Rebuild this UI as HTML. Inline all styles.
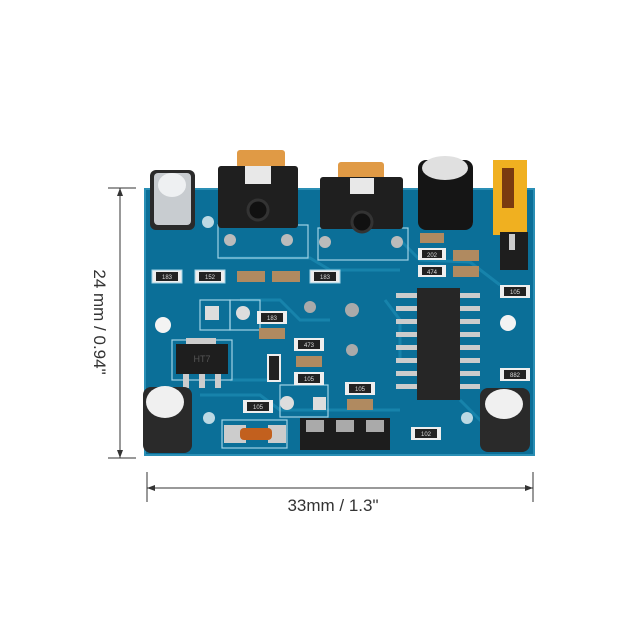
<!DOCTYPE html>
<html><head><style>
html,body{margin:0;padding:0;background:#fff;}
svg{display:block;}
text{font-family:"Liberation Sans",sans-serif;}
</style></head><body>
<svg width="626" height="628" viewBox="0 0 626 628" xmlns="http://www.w3.org/2000/svg">
<rect width="626" height="628" fill="#fff"/>
<!-- dimension lines -->
<g stroke="#333" stroke-width="1" fill="none">
<line x1="120" y1="188" x2="120" y2="458"/>
<line x1="108" y1="188" x2="136" y2="188"/>
<line x1="108" y1="458" x2="136" y2="458"/>
<line x1="147" y1="488" x2="533" y2="488"/>
<line x1="147" y1="472" x2="147" y2="502"/>
<line x1="533" y1="472" x2="533" y2="502"/>
</g>
<path d="M120 188 l-3 8 h6z M120 458 l-3 -8 h6z M147 488 l8 -3 v6z M533 488 l-8 -3 v6z" fill="#333"/>
<text x="0" y="0" font-size="17" fill="#333" text-anchor="middle" transform="translate(94,322) rotate(90)">24 mm / 0.94"</text>
<text x="333" y="511" font-size="17" fill="#333" text-anchor="middle">33mm / 1.3"</text>
<!-- board -->
<rect x="145" y="189" width="389" height="266" fill="#0b6f98"/>
<rect x="145" y="189" width="389" height="266" fill="none" stroke="#2a8fb5" stroke-width="2"/>
<!-- traces -->
<g stroke="#1a88b0" stroke-width="3" fill="none" opacity="0.8">
<path d="M220 258 L310 258 L330 270 L400 270"/>
<path d="M400 240 L420 260 L470 262 L500 285"/>
<path d="M240 300 L280 300 L300 320 L330 320"/>
<path d="M200 395 L260 395 L280 410 L400 410"/>
<path d="M460 400 L480 420 L500 420"/>
<path d="M385 300 L400 320 L400 360"/>
<path d="M230 380 L280 380"/>
</g>
<g stroke="#9fd3e6" stroke-width="1.2" fill="none">
<rect x="218" y="225" width="90" height="33"/>
<rect x="318" y="228" width="90" height="32"/>
<rect x="200" y="300" width="30" height="30"/>
<rect x="230" y="300" width="30" height="30"/>
<rect x="172" y="340" width="60" height="40"/>
<rect x="280" y="385" width="48" height="32"/>
<rect x="222" y="420" width="65" height="28"/>
</g>
<!-- holes -->
<circle cx="163" cy="325" r="8" fill="#f3f3f3"/>
<circle cx="508" cy="323" r="8" fill="#f3f3f3"/>
<circle cx="208" cy="222" r="6" fill="#bcd9e4"/>
<circle cx="467" cy="222" r="6" fill="#bcd9e4"/>
<circle cx="209" cy="418" r="6" fill="#bcd9e4"/>
<circle cx="467" cy="418" r="6" fill="#bcd9e4"/>
<!-- pads -->
<rect x="205" y="306" width="14" height="14" fill="#ddd"/>
<circle cx="243" cy="313" r="7" fill="#ddd"/>
<circle cx="287" cy="403" r="7" fill="#ddd"/>
<rect x="313" y="397" width="13" height="13" fill="#ddd"/>
<circle cx="310" cy="307" r="6" fill="#aaa"/>
<circle cx="352" cy="310" r="7" fill="#aaa"/>
<circle cx="352" cy="350" r="6" fill="#aaa"/>
<!-- resistors -->
<g font-size="6" text-anchor="middle" fill="#222">
<g><rect x="152" y="270" width="30" height="13" fill="#eee" stroke="#9fd3e6"/><rect x="156" y="272" width="22" height="9" fill="#222"/><text x="167" y="279" fill="#ddd">183</text></g>
<g><rect x="195" y="270" width="30" height="13" fill="#eee" stroke="#9fd3e6"/><rect x="199" y="272" width="22" height="9" fill="#222"/><text x="210" y="279" fill="#ddd">152</text></g>
<rect x="237" y="271" width="28" height="11" fill="#b08a60"/>
<rect x="272" y="271" width="28" height="11" fill="#b08a60"/>
<g><rect x="310" y="270" width="30" height="13" fill="#eee" stroke="#9fd3e6"/><rect x="314" y="272" width="22" height="9" fill="#222"/><text x="325" y="279" fill="#ddd">183</text></g>
<g><rect x="257" y="311" width="30" height="13" fill="#eee"/><rect x="261" y="313" width="22" height="9" fill="#222"/><text x="272" y="320" fill="#ddd">183</text></g>
<rect x="259" y="328" width="26" height="11" fill="#b08a60"/>
<g><rect x="294" y="338" width="30" height="13" fill="#eee"/><rect x="298" y="340" width="22" height="9" fill="#222"/><text x="309" y="347" fill="#ddd">473</text></g>
<rect x="296" y="356" width="26" height="11" fill="#b08a60"/>
<g><rect x="294" y="372" width="30" height="13" fill="#eee"/><rect x="298" y="374" width="22" height="9" fill="#222"/><text x="309" y="381" fill="#ddd">105</text></g>
<rect x="268" y="355" width="12" height="26" fill="#222" stroke="#eee" stroke-width="2"/>
<g><rect x="345" y="382" width="30" height="13" fill="#eee"/><rect x="349" y="384" width="22" height="9" fill="#222"/><text x="360" y="391" fill="#ddd">105</text></g>
<rect x="347" y="399" width="26" height="11" fill="#b08a60"/>
<g><rect x="243" y="400" width="30" height="13" fill="#eee"/><rect x="247" y="402" width="22" height="9" fill="#222"/><text x="258" y="409" fill="#ddd">105</text></g>
<g><rect x="411" y="427" width="30" height="13" fill="#eee"/><rect x="415" y="429" width="22" height="9" fill="#222"/><text x="426" y="436" fill="#ddd">102</text></g>
<g><rect x="418" y="248" width="28" height="12" fill="#eee"/><rect x="422" y="250" width="20" height="8" fill="#222"/><text x="432" y="257" fill="#ddd">202</text></g>
<g><rect x="418" y="265" width="28" height="12" fill="#eee"/><rect x="422" y="267" width="20" height="8" fill="#222"/><text x="432" y="274" fill="#ddd">474</text></g>
<rect x="453" y="250" width="26" height="11" fill="#b08a60"/>
<rect x="453" y="266" width="26" height="11" fill="#b08a60"/>
<rect x="420" y="233" width="24" height="10" fill="#b08a60"/>
<g><rect x="500" y="285" width="30" height="13" fill="#eee"/><rect x="504" y="287" width="22" height="9" fill="#222"/><text x="515" y="294" fill="#ddd">105</text></g>
<g><rect x="500" y="368" width="30" height="13" fill="#eee"/><rect x="504" y="370" width="22" height="9" fill="#222"/><text x="515" y="377" fill="#ddd">882</text></g>
</g>
<!-- IC -->
<g fill="#ccc">
<rect x="396" y="293" width="22" height="5"/><rect x="396" y="306" width="22" height="5"/><rect x="396" y="319" width="22" height="5"/><rect x="396" y="332" width="22" height="5"/><rect x="396" y="345" width="22" height="5"/><rect x="396" y="358" width="22" height="5"/><rect x="396" y="371" width="22" height="5"/><rect x="396" y="384" width="22" height="5"/>
<rect x="458" y="293" width="22" height="5"/><rect x="458" y="306" width="22" height="5"/><rect x="458" y="319" width="22" height="5"/><rect x="458" y="332" width="22" height="5"/><rect x="458" y="345" width="22" height="5"/><rect x="458" y="358" width="22" height="5"/><rect x="458" y="371" width="22" height="5"/><rect x="458" y="384" width="22" height="5"/>
</g>
<rect x="417" y="288" width="43" height="112" fill="#262626"/>
<!-- regulator -->
<rect x="186" y="338" width="30" height="6" fill="#ccc"/>
<rect x="176" y="344" width="52" height="30" fill="#1e1e1e"/>
<text x="202" y="362" font-size="9" fill="#555" text-anchor="middle">HT7</text>
<rect x="183" y="374" width="6" height="14" fill="#ccc"/><rect x="199" y="374" width="6" height="14" fill="#ccc"/><rect x="215" y="374" width="6" height="14" fill="#ccc"/>
<!-- diode -->
<rect x="224" y="425" width="22" height="18" fill="#ccc"/><rect x="268" y="425" width="18" height="18" fill="#ccc"/>
<rect x="240" y="428" width="32" height="12" rx="4" fill="#c2601e"/>
<!-- header -->
<rect x="300" y="418" width="90" height="32" fill="#1d1d1d"/>
<rect x="306" y="420" width="18" height="12" fill="#aaa"/><rect x="336" y="420" width="18" height="12" fill="#aaa"/><rect x="366" y="420" width="18" height="12" fill="#aaa"/>
<!-- pots -->
<rect x="237" y="150" width="48" height="18" rx="3" fill="#e09a45"/>
<rect x="218" y="166" width="80" height="62" rx="3" fill="#1f1f1f"/>
<rect x="245" y="166" width="26" height="18" fill="#e8e8e8"/>
<circle cx="258" cy="210" r="10" fill="#111" stroke="#333" stroke-width="3"/>
<circle cx="230" cy="240" r="6" fill="#bbb"/><circle cx="287" cy="240" r="6" fill="#bbb"/>
<rect x="338" y="162" width="46" height="18" rx="3" fill="#e09a45"/>
<rect x="320" y="177" width="83" height="52" rx="3" fill="#1f1f1f"/>
<rect x="350" y="178" width="24" height="16" fill="#e8e8e8"/>
<circle cx="362" cy="222" r="10" fill="#111" stroke="#333" stroke-width="3"/>
<circle cx="325" cy="242" r="6" fill="#bbb"/><circle cx="397" cy="242" r="6" fill="#bbb"/>
<!-- capacitors -->
<rect x="150" y="170" width="45" height="60" rx="6" fill="#2a2a2a"/>
<rect x="154" y="173" width="37" height="52" rx="4" fill="#c8ccd0"/>
<ellipse cx="172" cy="185" rx="14" ry="12" fill="#eef0f2"/>
<rect x="418" y="160" width="55" height="70" rx="8" fill="#151515"/>
<ellipse cx="445" cy="168" rx="23" ry="12" fill="#e0e0e0"/>
<rect x="143" y="387" width="49" height="66" rx="8" fill="#2a2a2a"/>
<ellipse cx="165" cy="402" rx="19" ry="16" fill="#f0f0f0"/>
<rect x="480" y="388" width="50" height="64" rx="8" fill="#2a2a2a"/>
<ellipse cx="504" cy="404" rx="19" ry="15" fill="#f0f0f0"/>
<!-- jumper -->
<rect x="493" y="160" width="34" height="75" fill="#f0b020"/>
<rect x="502" y="168" width="12" height="40" fill="#7a3a10"/>
<rect x="500" y="232" width="28" height="38" fill="#1e1e1e"/>
<rect x="509" y="234" width="6" height="16" fill="#ccc"/>
</svg>
</body></html>
